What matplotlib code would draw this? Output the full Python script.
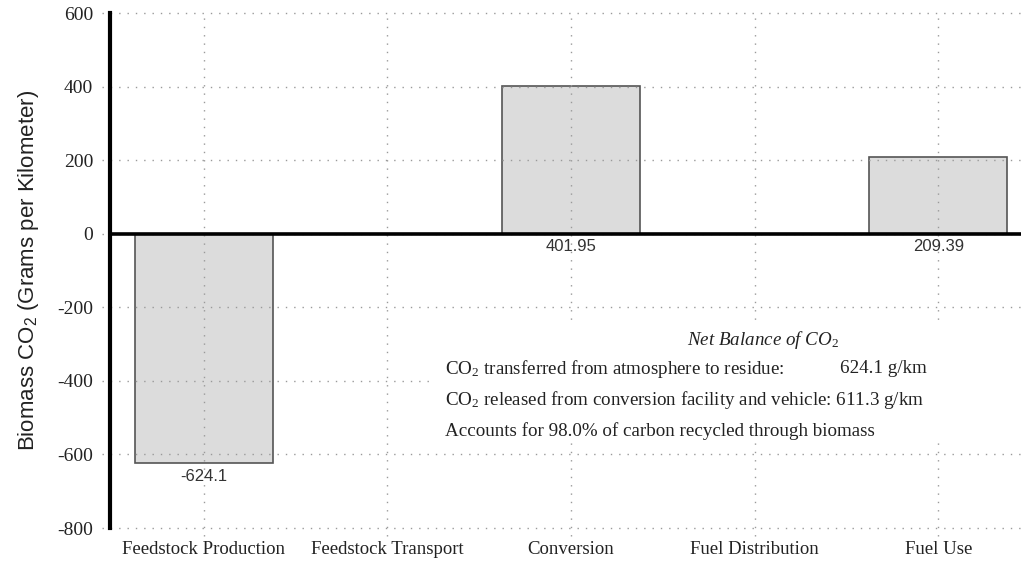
import numpy as np
import matplotlib
matplotlib.use("Agg")
import matplotlib.pyplot as plt
from matplotlib.patches import Rectangle

# data
categories = ["Feedstock Production", "Feedstock Transport", "Conversion",
              "Fuel Distribution", "Fuel Use"]
co2_values = [-624.1, 0.0, 401.95, 0.0, 209.39]
value_labels = ["-624.1", "", "401.95", "", "209.39"]
y_ticks = [600, 400, 200, 0, -200, -400, -600, -800]

note_title = r"Net Balance of $\mathit{CO}_{\mathit{2}}$"
note_lines = [r"$\mathrm{CO}_{\mathrm{2}}$ transferred from atmosphere to residue:",
              r"$\mathrm{CO}_{\mathrm{2}}$ released from conversion facility and vehicle: 611.3 g/km",
              "Accounts for 98.0% of carbon recycled through biomass"]
note_value = "624.1 g/km"

plt.rcParams["mathtext.fontset"] = "custom"
plt.rcParams["mathtext.rm"] = "Liberation Serif"
plt.rcParams["mathtext.it"] = "Liberation Serif:italic"
plt.rcParams["mathtext.sf"] = "Liberation Sans"

serif = "Liberation Serif"
sans = "Liberation Sans"
grid_color = "#9a9a9a"
dots = (0, (1, 5))
txt = "#222222"

fig = plt.figure(figsize=(10.21, 5.66), dpi=100)
ax = fig.add_axes([0.1077, 0.0671, 0.8923, 0.9099])

x = np.arange(len(categories))
ax.bar(x, co2_values, width=0.75, color="#dcdcdc", edgecolor="#555555",
       linewidth=1.2, zorder=1)

ax.set_xlim(-0.51, 4.45)
ax.set_ylim(-800, 600)

# dotted grid, sticking out a little past the axes like the original
for v in y_ticks:
    ax.axhline(v, xmin=-0.009, xmax=1, color=grid_color, lw=1, ls=dots,
               clip_on=False, zorder=2)
for xi in x:
    ax.axvline(xi, ymin=-0.015, ymax=1, color=grid_color, lw=1, ls=dots,
               clip_on=False, zorder=2)

# white box behind the note
ax.add_patch(Rectangle((0.357, 0.167), 0.65, 0.233, transform=ax.transAxes,
                       facecolor="white", edgecolor="none", zorder=3,
                       clip_on=False))

ax.axhline(0, color="black", lw=2.6, zorder=5)
for s in ["top", "right", "bottom"]:
    ax.spines[s].set_visible(False)
ax.spines["left"].set_linewidth(3)
ax.spines["left"].set_zorder(6)

ax.set_yticks(y_ticks)
ax.set_xticks(x)
ax.set_xticklabels(categories, fontfamily=serif, fontsize=13.5, color=txt)
ax.set_yticklabels([str(v) for v in y_ticks], fontfamily=serif, fontsize=14,
                   color=txt)
ax.tick_params(axis="y", length=0, pad=12)
ax.tick_params(axis="x", length=0, pad=9)

ax.set_ylabel(r"Biomass CO$_{\mathsf{2}}$ (Grams per Kilometer)", fontfamily=sans,
              fontsize=16, color=txt, labelpad=12)

for xi, v, lab in zip(x, co2_values, value_labels):
    if not lab:
        continue
    ax.annotate(lab, (xi, min(v, 0)), xytext=(0, -4), textcoords="offset points",
                ha="center", va="top", fontfamily=sans, fontsize=12,
                color="#333333", zorder=7)

ax.text(0.717, 0.365, note_title, transform=ax.transAxes, ha="center",
        va="center", fontfamily=serif, style="italic", fontsize=13.7,
        color=txt, zorder=7)
for yy, line in zip([0.309, 0.249, 0.188], note_lines):
    ax.text(0.368, yy, line, transform=ax.transAxes, ha="left", va="center",
            fontfamily=serif, fontsize=13.7, color=txt, zorder=7)
ax.text(0.897, 0.309, note_value, transform=ax.transAxes, ha="right",
        va="center", fontfamily=serif, fontsize=13.7, color=txt, zorder=7)

fig.savefig("out.png", dpi=100)
